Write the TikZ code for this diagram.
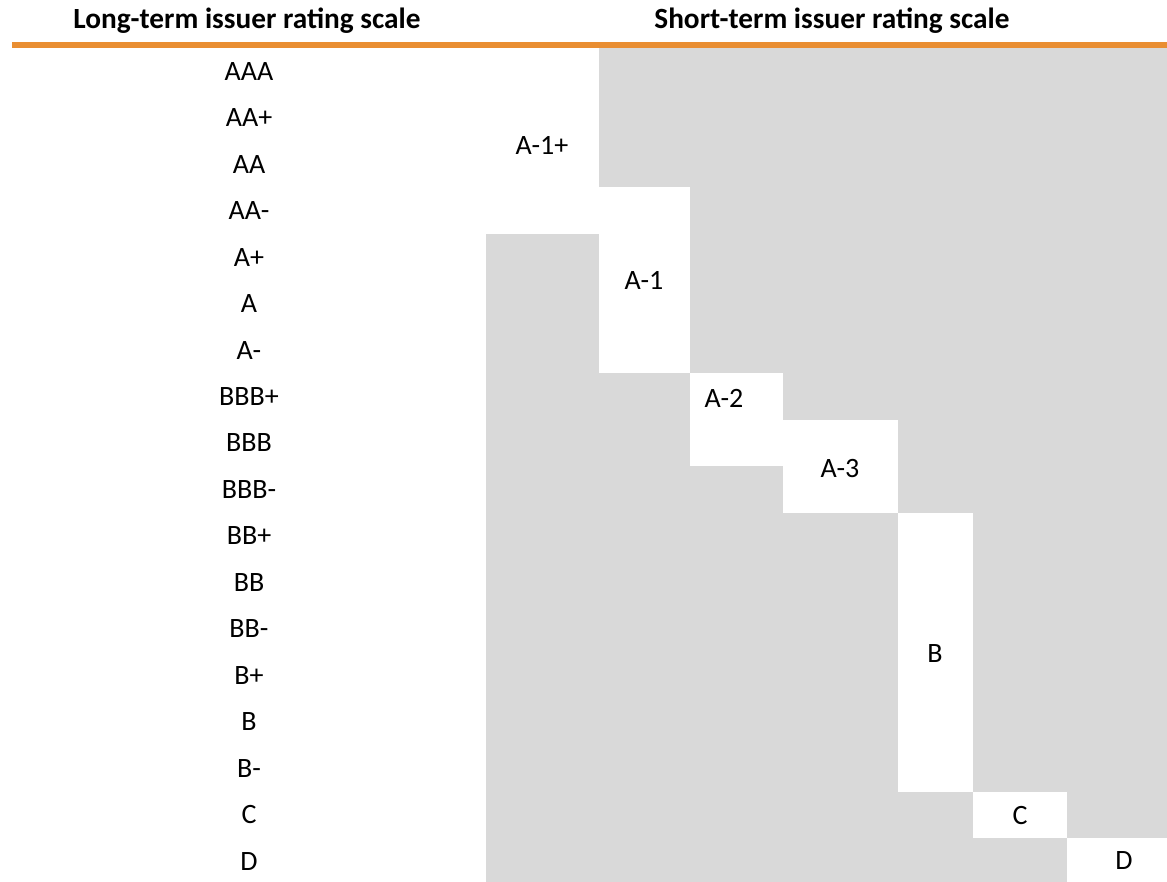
\documentclass[tikz,border=0pt]{standalone}
\usepackage{fontspec}
\setmainfont{Carlito}
\definecolor{barorange}{RGB}{233,142,50}
\definecolor{cellgray}{RGB}{217,217,217}
\newcommand{\rowh}{46.47}
\begin{document}
\begin{tikzpicture}[x=1pt,y=-1pt,
    every node/.style={font=\fontsize{28}{34}\selectfont,inner sep=0pt,anchor=base},
    head/.style={font=\fontsize{29.3}{35}\selectfont\bfseries}]
    \useasboundingbox (0,0) rectangle (1167,882);
    \node[head] (longhead) at (247,29) {Long-term issuer rating scale};
    \node[head] (shorthead) at (832,29) {Short-term issuer rating scale};
    \fill[barorange] (12,42) rectangle (1167,48);
    \fill[cellgray] (486,48) rectangle (1167,882);
    \foreach \r [count=\i from 0] in {AAA,AA+,AA,AA-,A+,A,A-,BBB+,BBB,BBB-,BB+,BB,BB-,B+,B,B-,C,D}
        \node (lt\i) at (249,{48+\rowh*(\i+0.5)+9}) {\r};
    \begin{scope}
        \fill[white] (486,48) rectangle (599,{48+4*\rowh});
        \node (aonep) at (542,155) {A-1+};
        \fill[white] (599,{48+3*\rowh}) rectangle (689.5,{48+7*\rowh});
        \node (aone) at (644,290) {A-1};
        \fill[white] (689.5,{48+7*\rowh}) rectangle (783,{48+9*\rowh});
        \node (atwo) at (724,407) {A-2};
        \fill[white] (783,{48+8*\rowh}) rectangle (897.5,{48+10*\rowh});
        \node (athree) at (840,477) {A-3};
        \fill[white] (897.5,{48+10*\rowh}) rectangle (972.7,{48+16*\rowh});
        \node (bshort) at (935,662) {B};
        \fill[white] (972.7,{48+16*\rowh}) rectangle (1067,{48+17*\rowh});
        \node (cshort) at (1020,824) {C};
        \fill[white] (1067,{48+17*\rowh}) rectangle (1167,882);
        \node (dshort) at (1124,869) {D};
    \end{scope}
\end{tikzpicture}
\end{document}
